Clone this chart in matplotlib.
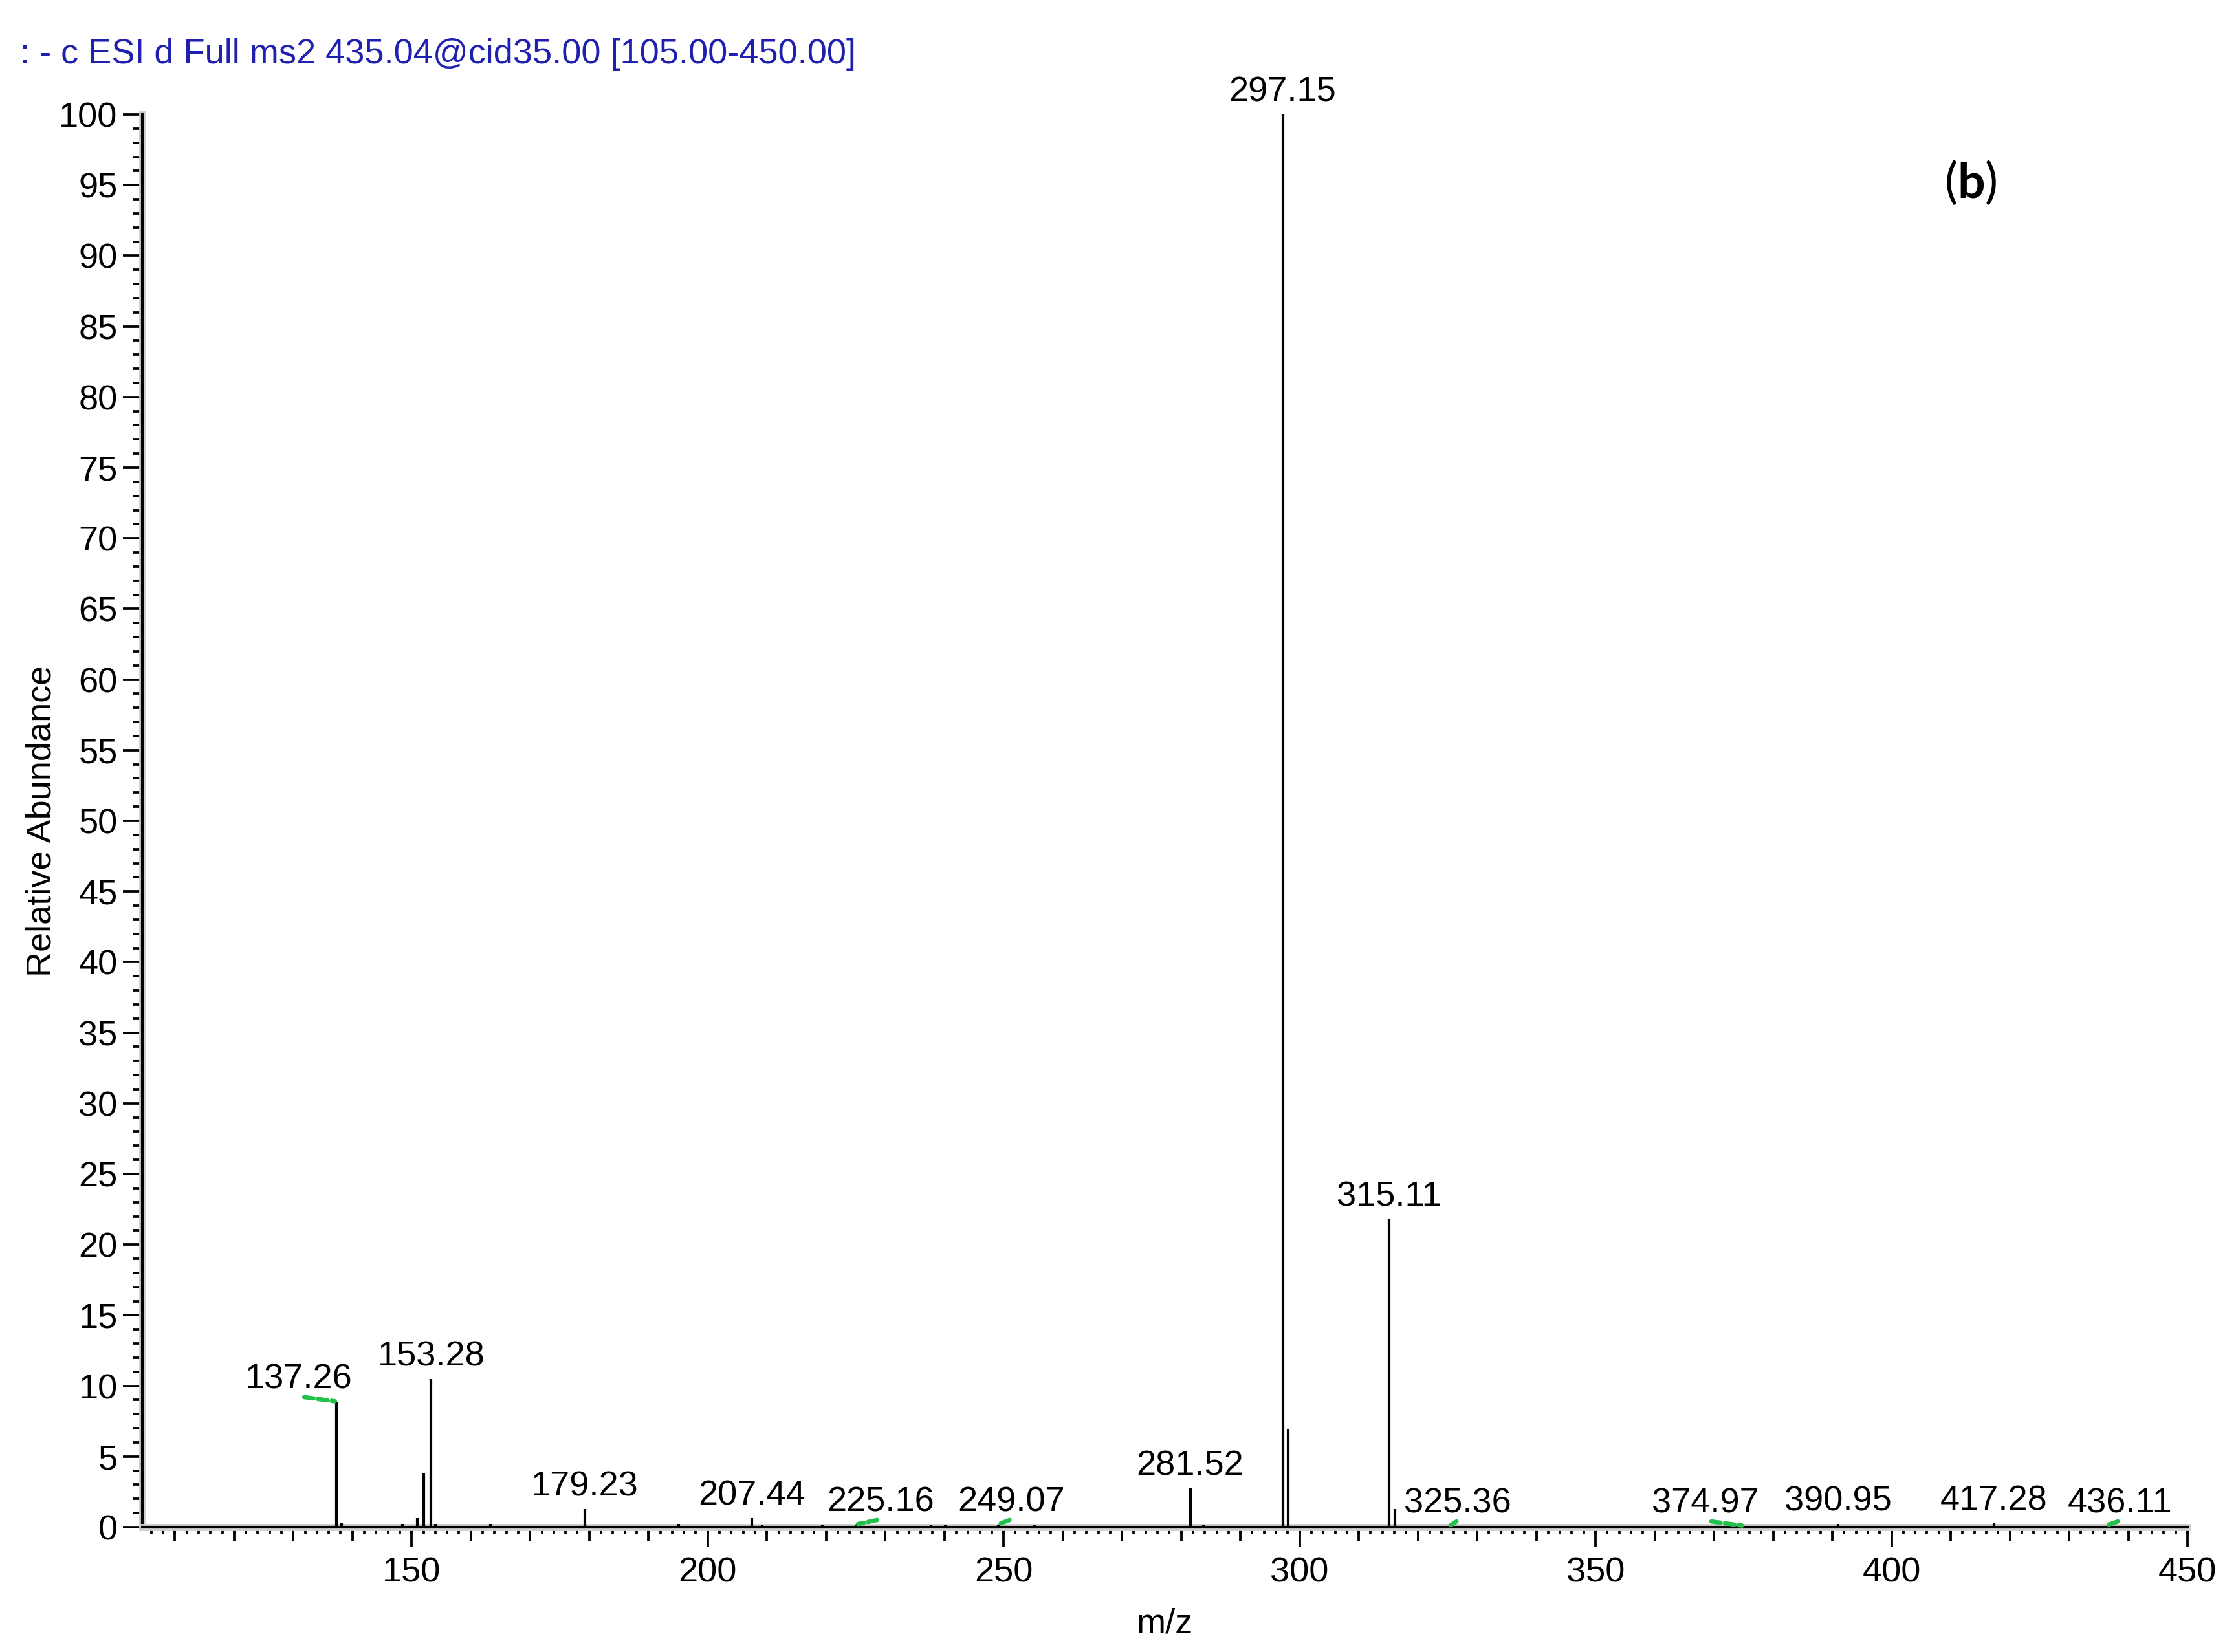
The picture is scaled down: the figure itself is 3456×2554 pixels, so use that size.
import matplotlib
matplotlib.use("Agg")
import matplotlib.pyplot as plt
from matplotlib.ticker import MultipleLocator, NullFormatter
import matplotlib.patheffects as pe
import numpy as np

plt.rcParams['font.family'] = ['Liberation Sans', 'DejaVu Sans']
plt.rcParams['mathtext.fontset'] = 'custom'
plt.rcParams['mathtext.bf'] = 'Lato:bold'
plt.rcParams['mathtext.rm'] = 'Lato'

# ---- data (m/z, relative abundance) ----
peak_mz = [137.26, 138.2, 148.4, 151.0, 152.1, 153.28, 154.0, 163.3, 179.23,
           195.1, 207.44, 209.2, 219.4, 225.16, 237.7, 240.1, 249.07, 255.2,
           281.52, 283.8, 297.15, 298.1, 315.11, 316.1, 325.36, 374.97,
           390.95, 417.28, 436.11]
peak_int = [8.9, 0.3, 0.25, 0.65, 3.85, 10.5, 0.25, 0.25, 1.3,
            0.25, 0.65, 0.2, 0.2, 0.2, 0.2, 0.2, 0.2, 0.2,
            2.75, 0.2, 100.0, 6.9, 21.8, 1.3, 0.1, 0.1,
            0.25, 0.3, 0.1]

label_mz = [137.26, 153.28, 179.23, 207.44, 225.16, 249.07, 281.52, 297.15,
            315.11, 325.36, 374.97, 390.95, 417.28, 436.11]
label_text = ["137.26", "153.28", "179.23", "207.44", "225.16", "249.07", "281.52",
              "297.15", "315.11", "325.36", "374.97", "390.95", "417.28", "436.11"]
# horizontal label offsets (points) used by the instrument software
label_dx = [-14, 0, 0, 0, 9, 5, 0, 0, 0, 3, -14, 0, 0, 5.5]

title_text = ": - c ESI d Full ms2 435.04@cid35.00 [105.00-450.00]"
x_ticks = [150, 200, 250, 300, 350, 400, 450]
y_ticks = list(range(0, 101, 5))

W, H = 3456, 2554
fig = plt.figure(figsize=(W / 300, H / 300), dpi=300)
L, R, B, T = 220, 3381, 2361, 177
ax = fig.add_axes([L / W, 1 - B / H, (R - L) / W, (B - T) / H])

ax.set_xlim(104.5, 450)
ax.set_ylim(0, 100)

ax.vlines(peak_mz, 0, peak_int, color='black', lw=1.0, zorder=3)

lookup = dict(zip(peak_mz, peak_int))
for mz, txt, dx in zip(label_mz, label_text, label_dx):
    yv = lookup[mz]
    ax.annotate(txt, xy=(mz, yv), xytext=(dx, 2.2), textcoords='offset points',
                ha='center', va='bottom', fontsize=13, color='black')
    if dx != 0:
        # green connector from the shifted label to its peak
        ax.annotate('', xy=(mz, yv), xytext=(dx * 0.85, 1.6), textcoords='offset points',
                    arrowprops=dict(arrowstyle='-', color='#22c24a', lw=1.6,
                                    linestyle=(0, (2.2, 1.0)), shrinkA=0, shrinkB=0.5))

# spines
for s in ['top', 'right']:
    ax.spines[s].set_visible(False)
for s in ['left', 'bottom']:
    ax.spines[s].set_linewidth(1.0)
    ax.spines[s].set_path_effects([pe.Stroke(linewidth=2.6, foreground='#cfcfcf'), pe.Normal()])

ax.set_xticks(x_ticks)
ax.xaxis.set_minor_locator(MultipleLocator(10))
ax.set_yticks(y_ticks)
ax.yaxis.set_minor_locator(MultipleLocator(1))
ax.tick_params(axis='x', which='major', length=7.4, width=0.9, pad=3.5, labelsize=13)
ax.tick_params(axis='x', which='minor', length=5.3, width=0.9)
ax.tick_params(axis='y', which='major', length=7.2, width=0.9, pad=2, labelsize=13)
ax.tick_params(axis='y', which='minor', length=3.6, width=0.9)

sec = ax.secondary_xaxis('bottom')
sec.set_xticks(np.arange(106, 451, 2))
sec.xaxis.set_major_formatter(NullFormatter())
sec.tick_params(length=2.3, width=0.9)
sec.spines['bottom'].set_visible(False)

ax.set_xlabel("m/z", fontsize=13, labelpad=7)
ax.set_ylabel("Relative Abundance", fontsize=13, labelpad=0.5)

fig.text(31 / W, 1 - 84 / H, title_text, fontsize=13, color='#1f1fb0',
         ha='left', va='center')
fig.text(3046 / W, 1 - 282 / H, r"($\mathbf{b}$)", fontsize=18, family='Lato',
         ha='center', va='center', color='black')

fig.savefig("out.png", dpi=300)
